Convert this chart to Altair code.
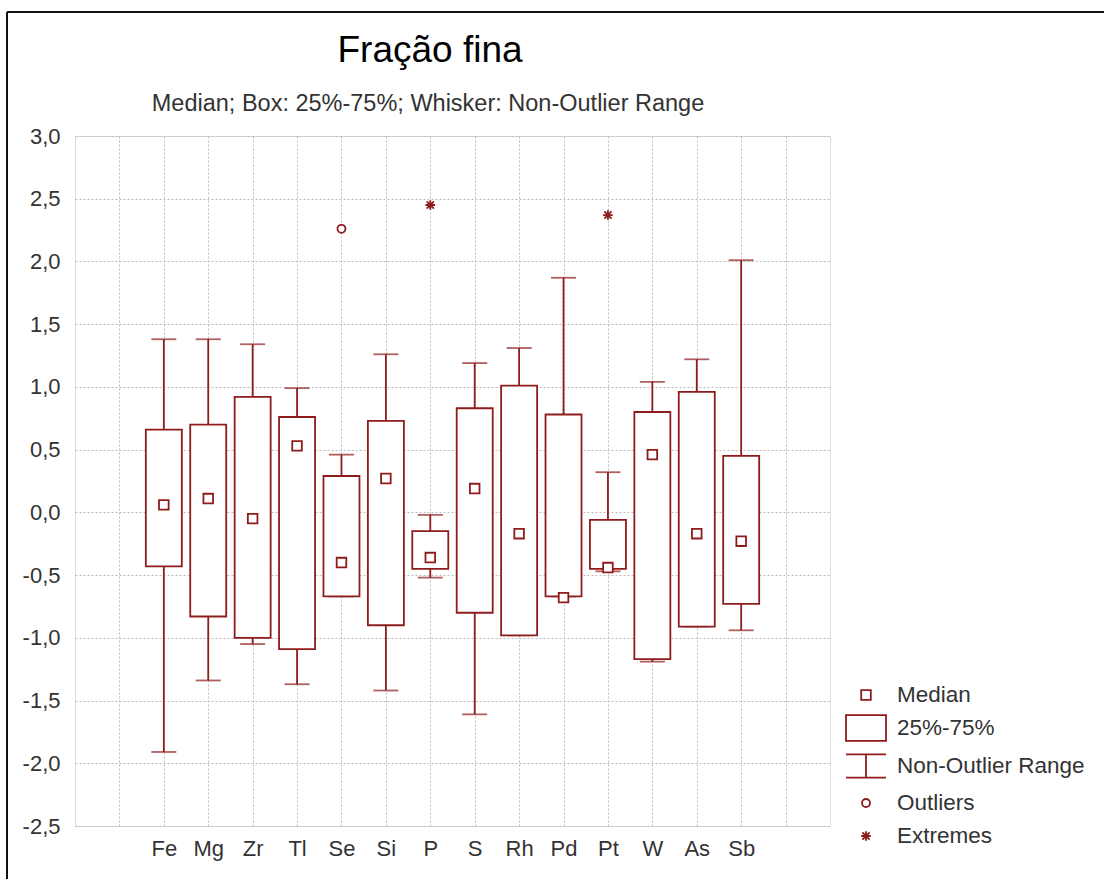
import altair as alt
import pandas as pd

# ---- data ----
elements = ["Fe", "Mg", "Zr", "Tl", "Se", "Si", "P", "S", "Rh", "Pd", "Pt", "W", "As", "Sb"]
medians = [0.06, 0.11, -0.05, 0.53, -0.40, 0.27, -0.36, 0.19, -0.17, -0.68, -0.44, 0.46, -0.17, -0.23]
q25 = [-0.43, -0.83, -1.00, -1.09, -0.67, -0.90, -0.45, -0.80, -0.98, -0.67, -0.45, -1.17, -0.91, -0.73]
q75 = [0.66, 0.70, 0.92, 0.76, 0.29, 0.73, -0.15, 0.83, 1.01, 0.78, -0.06, 0.80, 0.96, 0.45]
wmin = [-1.91, -1.34, -1.05, -1.37, -0.67, -1.42, -0.52, -1.61, -0.98, -0.67, -0.47, -1.19, -0.91, -0.94]
wmax = [1.38, 1.38, 1.34, 0.99, 0.46, 1.26, -0.02, 1.19, 1.31, 1.87, 0.32, 1.04, 1.22, 2.01]
outlier_elems = ["Se"]
outlier_vals = [2.26]
extreme_elems = ["P", "Pt"]
extreme_vals = [2.45, 2.37]

y_ticks = [-2.5, -2.0, -1.5, -1.0, -0.5, 0.0, 0.5, 1.0, 1.5, 2.0, 2.5, 3.0]
x_slots = [""] + [""] + elements + [""] + [""]   # slot 0..17, elements at 2..15
legend_labels = ["Median", "25%-75%", "Non-Outlier Range", "Outliers", "Extremes"]

title_text = "Fração fina"
subtitle_text = "Median; Box: 25%-75%; Whisker: Non-Outlier Range"

# ---- styling ----
RED = "#8e1c1c"
FONT = "Liberation Sans"
SW = 1.8
SYM = 1600

pos = {e: i + 2 for i, e in enumerate(elements)}
box_df = pd.DataFrame({
    "elem": elements,
    "idx": [pos[e] for e in elements],
    "median": medians, "q25": q25, "q75": q75, "wmin": wmin, "wmax": wmax,
})
pts_df = pd.DataFrame({
    "idx": [pos[e] for e in elements] + [pos[e] for e in outlier_elems] + [pos[e] for e in extreme_elems],
    "value": medians + outlier_vals + extreme_vals,
    "kind": ["Median"] * len(elements) + ["Outliers"] * len(outlier_elems) + ["Extremes"] * len(extreme_elems),
})

shape_paths = [
    "M-0.24,-0.24H0.24V0.24H-0.24Z",                       # median square
    "M-1,-0.64H1V0.64H-1Z",                                 # box
    "M-1,-0.58H1M0,-0.58V0.58M-1,0.58H1",                   # whisker
    "M0.2,0A0.2,0.2,0,1,1,-0.2,0A0.2,0.2,0,1,1,0.2,0Z",    # outlier circle
    "M-0.24,0H0.24M0,-0.24V0.24M-0.18,-0.18L0.18,0.18M-0.18,0.18L0.18,-0.18",  # extreme asterisk
]

label_js = "[" + ",".join("'" + s + "'" for s in x_slots) + "]"
x_enc = alt.X(
    "idx:Q",
    scale=alt.Scale(domain=[0, 17], nice=False, zero=False, padding=0),
    axis=alt.Axis(
        values=list(range(1, 17)), labelExpr=label_js + "[datum.value]",
        grid=True, gridDash=[2, 2], gridColor="#bcbcbc", gridWidth=1,
        domain=False, ticks=False, labelFontSize=22, labelFont=FONT,
        labelColor="#333333", labelPadding=12, title=None, labelFlush=False,
    ),
)
y_scale = alt.Scale(domain=[-2.5, 3.0], nice=False, zero=False, padding=0)
y_axis = alt.Axis(
    values=y_ticks,
    labelExpr="replace(replace(format(datum.value, '.1f'), '.', ','), '\u2212', '-')",
    grid=True, gridDash=[2, 2], gridColor="#bcbcbc", gridWidth=1,
    domain=False, ticks=False, labelFontSize=22, labelFont=FONT,
    labelColor="#333333", labelPadding=15, title=None, labelFlush=False,
)

base = alt.Chart(box_df)

whisk_lo = base.mark_rule(color=RED, strokeWidth=SW).encode(
    x=x_enc, y=alt.Y("wmin:Q", scale=y_scale, axis=y_axis), y2="q25:Q")
whisk_hi = base.mark_rule(color=RED, strokeWidth=SW).encode(
    x=x_enc, y=alt.Y("q75:Q", scale=y_scale, axis=y_axis), y2="wmax:Q")
cap_lo = base.mark_tick(color=RED, orient="horizontal", size=25, thickness=SW).encode(
    x=x_enc, y=alt.Y("wmin:Q", scale=y_scale, axis=y_axis))
cap_hi = base.mark_tick(color=RED, orient="horizontal", size=25, thickness=SW).encode(
    x=x_enc, y=alt.Y("wmax:Q", scale=y_scale, axis=y_axis))
boxes = base.mark_bar(size=36, fill="white", stroke=RED, strokeWidth=SW).encode(
    x=x_enc, y=alt.Y("q25:Q", scale=y_scale, axis=y_axis), y2="q75:Q")

legend_def = alt.Legend(
    title=None, orient="none", legendX=770, legendY=538,
    labelFontSize=22.5, labelFont=FONT, labelColor="#333333", labelLimit=0,
    symbolSize=SYM, symbolFillColor="white",
    symbolStrokeWidth=SW, labelOffset=10, rowPadding=0, padding=0,
)

points = alt.Chart(pts_df).mark_point(
    size=SYM, filled=False, fill="white", fillOpacity=1, strokeWidth=SW, opacity=1
).encode(
    x=x_enc,
    y=alt.Y("value:Q", scale=y_scale, axis=y_axis),
    color=alt.Color("kind:N", scale=alt.Scale(domain=legend_labels, range=[RED] * len(legend_labels)),
                    legend=legend_def),
    shape=alt.Shape("kind:N", scale=alt.Scale(domain=legend_labels, range=shape_paths),
                    legend=legend_def),
)

frame = alt.Chart(pd.DataFrame({"a": [0]})).mark_rule(color="#111111", strokeWidth=2).encode(
    x=alt.value(-68), x2=alt.value(1100), y=alt.value(-124), y2=alt.value(-124))
frame2 = alt.Chart(pd.DataFrame({"a": [0]})).mark_rule(color="#111111", strokeWidth=2).encode(
    x=alt.value(-68), x2=alt.value(-68), y=alt.value(-124), y2=alt.value(760))

title_mark = alt.Chart(pd.DataFrame({"t": [title_text]})).mark_text(
    font=FONT, fontSize=37, color="#000000", align="center", baseline="alphabetic"
).encode(text="t:N", x=alt.value(355), y=alt.value(-74))
subtitle_mark = alt.Chart(pd.DataFrame({"t": [subtitle_text]})).mark_text(
    font=FONT, fontSize=23.5, color="#333333", align="center", baseline="alphabetic"
).encode(text="t:N", x=alt.value(353), y=alt.value(-25))

chart = alt.layer(
    whisk_lo, whisk_hi, cap_lo, cap_hi, boxes, points, frame, frame2, title_mark, subtitle_mark
).properties(
    width=755, height=690,
    autosize=alt.AutoSizeParams(type="none"),
    padding={"left": 75, "top": 136, "right": 274, "bottom": 53},
).configure_view(stroke="#222222", strokeWidth=2).configure(background="white")

chart.save("out.html", embed_options={"renderer": "svg", "actions": False})
